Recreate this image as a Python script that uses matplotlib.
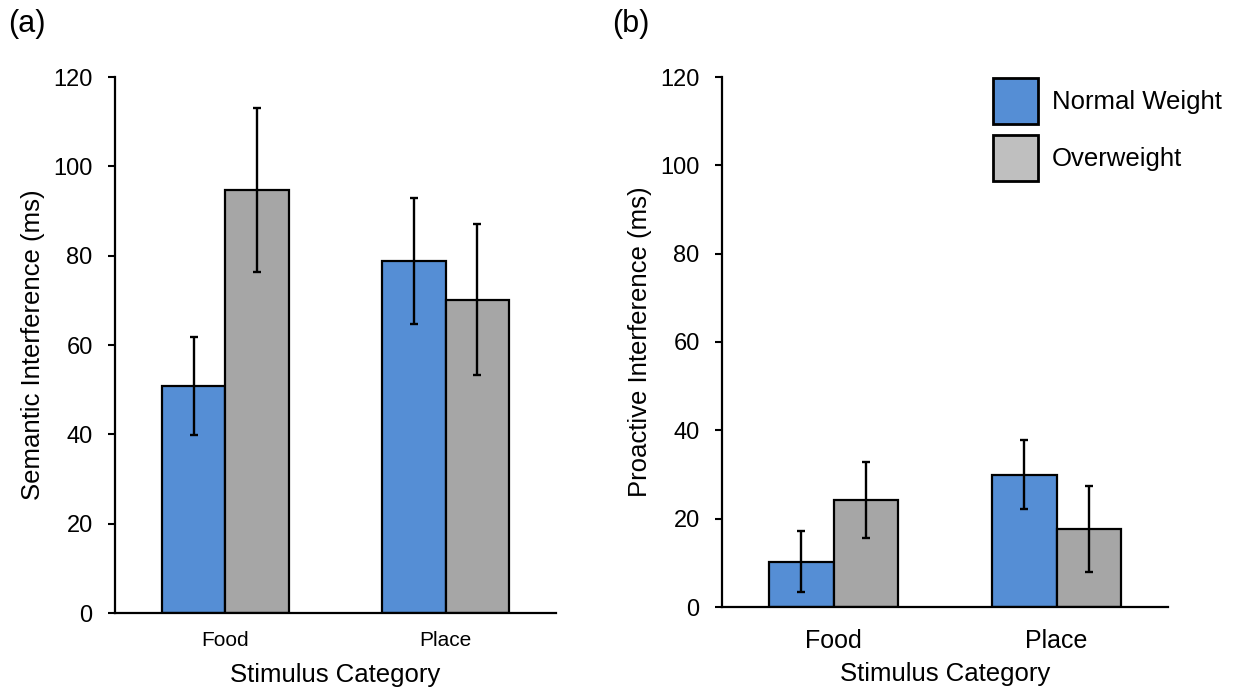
import matplotlib
matplotlib.use("Agg")
import matplotlib.pyplot as plt
from matplotlib.patches import Patch
import numpy as np

plt.rcParams['font.family'] = ['Liberation Sans', 'DejaVu Sans']

categories = ["Food", "Place"]
groups = ["Normal Weight", "Overweight"]

semantic_nw = [50.9, 78.8]
semantic_nw_err = [11.0, 14.0]
semantic_ow = [94.7, 70.1]
semantic_ow_err = [18.4, 16.9]

proactive_nw = [10.3, 30.0]
proactive_nw_err = [7.0, 7.7]
proactive_ow = [24.3, 17.6]
proactive_ow_err = [8.6, 9.7]

yticks = [0, 20, 40, 60, 80, 100, 120]

BLUE = "#558ED5"
GRAY = "#A6A6A6"
LEG_GRAY = "#BFBFBF"

W, H = 1234, 692
fig = plt.figure(figsize=(W/100, H/100), dpi=100)
axL = fig.add_axes([115/W, 1-613/H, (556-115)/W, (613-77)/H])
axR = fig.add_axes([722/W, 1-607/H, (1168-722)/W, (607-77)/H])

w = 0.287
x = np.arange(len(categories))

def draw(ax, nw, nwe, ow, owe, ylabel, xfs, xpad, axw, axh, xlab_off):
    ax.bar(x - w/2, nw, w, color=BLUE, edgecolor="black", linewidth=1.6, zorder=2)
    ax.bar(x + w/2, ow, w, color=GRAY, edgecolor="black", linewidth=1.6, zorder=2)
    ax.errorbar(x - w/2, nw, yerr=nwe, fmt="none", ecolor="black", elinewidth=1.7,
                capsize=3.2, capthick=1.7, zorder=3)
    ax.errorbar(x + w/2, ow, yerr=owe, fmt="none", ecolor="black", elinewidth=1.7,
                capsize=3.2, capthick=1.7, zorder=3)
    ax.set_xlim(-0.5, 1.5)
    ax.set_ylim(0, 120)
    ax.set_yticks(yticks)
    ax.set_xticks(x)
    ax.set_xticklabels(categories, fontsize=xfs)
    ax.tick_params(axis="x", length=0, pad=xpad)
    ax.tick_params(axis="y", direction="out", length=7*0.72, width=1.5, labelsize=17, pad=11)
    for s in ["top", "right"]:
        ax.spines[s].set_visible(False)
    ax.spines["left"].set_linewidth(1.6)
    ax.spines["bottom"].set_linewidth(1.6)
    ax.set_ylabel(ylabel, fontsize=18.5)
    ax.yaxis.set_label_coords(-70/axw, 0.5)
    ax.set_xlabel("Stimulus Category", fontsize=18.5)
    ax.xaxis.set_label_coords(0.5, -xlab_off/axh)

draw(axL, semantic_nw, semantic_nw_err, semantic_ow, semantic_ow_err,
     "Semantic Interference (ms)", 15, 13, 441, 536, 50)
draw(axR, proactive_nw, proactive_nw_err, proactive_ow, proactive_ow_err,
     "Proactive Interference (ms)", 18, 15.5, 446, 530, 55)

handles = [Patch(facecolor=BLUE, edgecolor="black", linewidth=2),
           Patch(facecolor=LEG_GRAY, edgecolor="black", linewidth=2)]
fig.legend(handles, groups, loc="upper left", bbox_to_anchor=(993/W, 1-78/H),
           bbox_transform=fig.transFigure, frameon=False, fontsize=18.5,
           handlelength=1.75, handleheight=2.4, labelspacing=0.4,
           handletextpad=0.55, borderpad=0, borderaxespad=0)

fig.text(8/W, 1-24/H, "(a)", fontsize=22, va="center", ha="left")
fig.text(612/W, 1-24/H, "(b)", fontsize=22, va="center", ha="left")

fig.savefig("out.png", dpi=100)
